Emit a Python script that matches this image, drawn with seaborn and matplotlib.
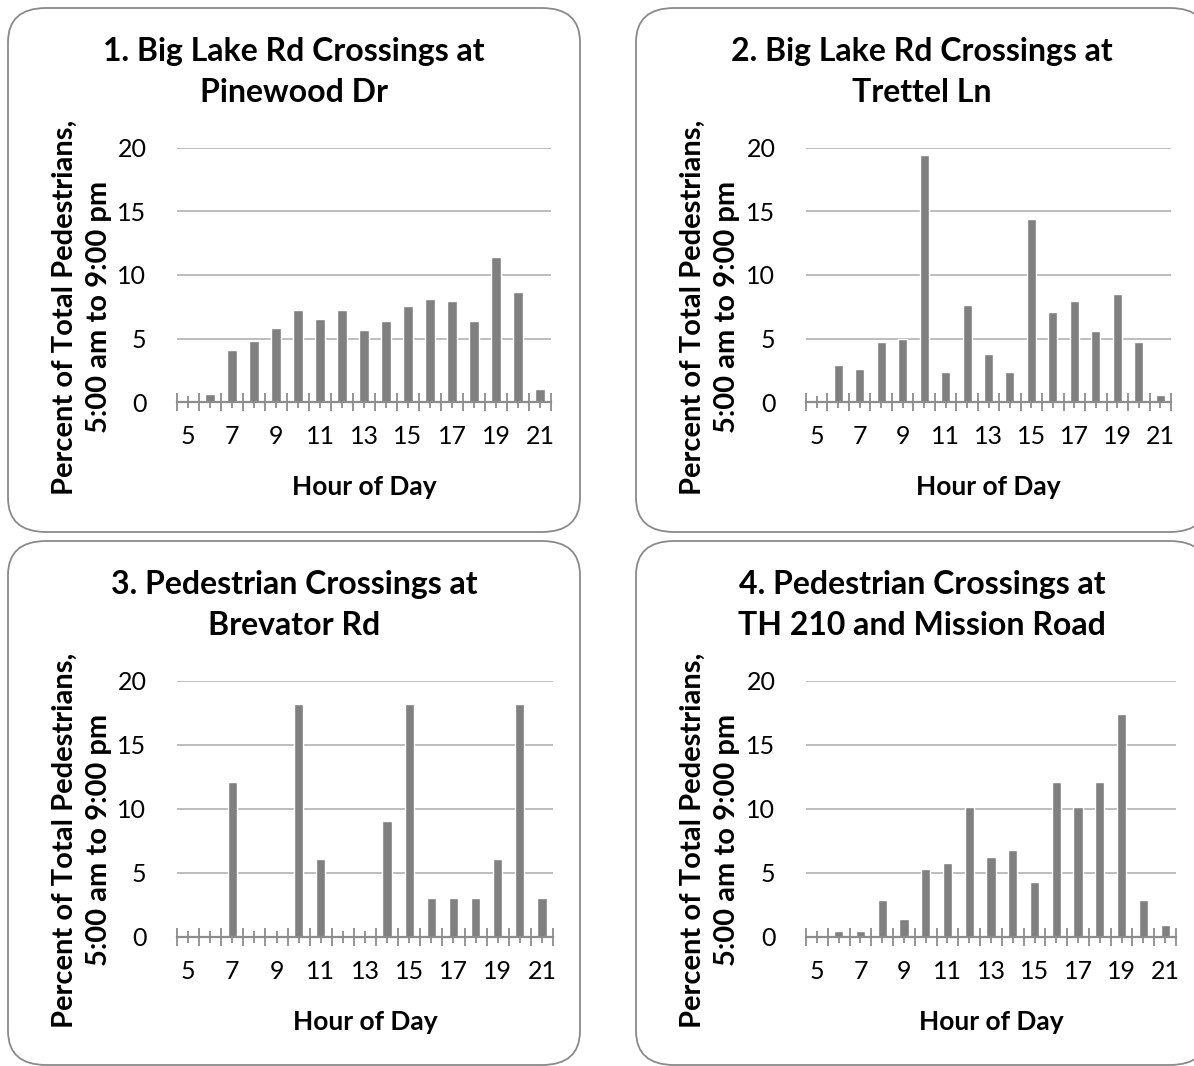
import numpy as np
import pandas as pd
import matplotlib
matplotlib.use("Agg")
import matplotlib.pyplot as plt
from matplotlib.patches import FancyBboxPatch
import seaborn as sns

hours = list(range(5, 22))
tick_labels = [str(h) if h % 2 == 1 else "" for h in hours]

pinewood = [0, 0.65, 4.1, 4.8, 5.84, 7.25, 6.54, 7.25, 5.68, 6.39, 7.57, 8.12, 7.96, 6.39, 11.41, 8.66, 1.05]
trettel = [0, 2.93, 2.62, 4.74, 4.97, 19.42, 2.38, 7.64, 3.8, 2.38, 14.4, 7.09, 7.96, 5.6, 8.5, 4.74, 0.58]
brevator = [0, 0, 12.12, 0, 0, 18.18, 6.06, 0, 0, 9.09, 18.18, 3.03, 3.03, 3.03, 6.06, 18.18, 3.03]
mission = [0, 0.49, 0.49, 2.91, 1.43, 5.33, 5.8, 10.17, 6.27, 6.81, 4.32, 12.12, 10.17, 12.12, 17.43, 2.91, 0.96]

titles = [
    "1. Big Lake Rd Crossings at\nPinewood Dr",
    "2. Big Lake Rd Crossings at\nTrettel Ln",
    "3. Pedestrian Crossings at\nBrevator Rd",
    "4. Pedestrian Crossings at\nTH 210 and Mission Road",
]
y_label = "Percent of Total Pedestrians,\n5:00 am to 9:00 pm"
x_label = "Hour of Day"
series = [pinewood, trettel, brevator, mission]

sns.set_style("white")
plt.rcParams["font.family"] = ["Lato", "DejaVu Sans"]
plt.rcParams["text.color"] = "black"
plt.rcParams["xtick.color"] = "black"
plt.rcParams["ytick.color"] = "black"

W, H = 1194, 1066
fig = plt.figure(figsize=(W / 100, H / 100), dpi=100)

boxes = [(8, 8, 580, 532), (636, 8, 1208, 532), (8, 541, 580, 1065), (636, 541, 1208, 1065)]
axes_px = [(177, 551, 148, 402), (806, 1171, 148, 402), (177, 553, 681, 937), (806, 1176, 681, 937)]

def fx(px):
    return px / W

def fy(py):
    return 1 - py / H

for i in range(4):
    bx0, by0, bx1, by1 = boxes[i]
    patch = FancyBboxPatch((fx(bx0), fy(by1)), fx(bx1 - bx0), (by1 - by0) / H,
                           boxstyle="round,pad=0,rounding_size=0.032",
                           transform=fig.transFigure, facecolor="white",
                           edgecolor="#8a8a8a", linewidth=1.3, zorder=0)
    fig.patches.append(patch)

    l, r, t, b = axes_px[i]
    ax = fig.add_axes([fx(l), fy(b), fx(r - l), (b - t) / H])
    ax.set_zorder(3)
    ax.patch.set_alpha(0)
    df = pd.DataFrame({"hour": hours, "pct": series[i]})
    sns.barplot(data=df, x="hour", y="pct", order=hours, color="#808080",
                saturation=1, width=0.42, ax=ax)
    ax.set_xlim(-0.5, len(hours) - 0.5)
    ax.set_ylim(0, 20)
    ax.set_yticks([0, 5, 10, 15, 20])
    ax.set_yticklabels(["0", "5", "10", "15", "20"])
    ax.yaxis.grid(True, color="#bdbdbd", linewidth=1.4)
    ax.set_axisbelow(True)
    for s in ["top", "right", "left"]:
        ax.spines[s].set_visible(False)
    ax.spines["bottom"].set_color("#8c8c8c")
    ax.spines["bottom"].set_linewidth(1.6)
    ax.spines["bottom"].set_zorder(5)
    ax.set_xticks(range(len(hours)))
    ax.set_xticklabels(tick_labels)
    ax.set_xticks(np.arange(-0.5, len(hours), 1.0), minor=True)
    ax.tick_params(axis="x", which="major", bottom=True, direction="inout", length=9, width=1.3,
                   color="#8c8c8c", labelcolor="black", labelsize=18, pad=12)
    ax.tick_params(axis="x", which="minor", bottom=True, direction="inout", length=13, width=1.3,
                   color="#8c8c8c")
    ax.tick_params(axis="y", length=0, labelsize=18, labelcolor="black", pad=22)
    ax.set_xlabel("")
    ax.set_ylabel("")

    cx = (bx0 + bx1) / 2
    fig.text(fx(cx), fy(by0 + 64), titles[i], ha="center", va="center",
             fontsize=23, fontweight="bold", linespacing=1.5, color="black")
    fig.text(fx((l + r) / 2), fy(b + 85), x_label, ha="center", va="center",
             fontsize=19, fontweight="bold", color="black")
    fig.text(fx(bx0 + 74), fy(by0 + 299), y_label, ha="center", va="center",
             rotation=90, fontsize=21, fontweight="bold", linespacing=1.35,
             multialignment="center", color="black")

fig.savefig("out.png", dpi=100)
